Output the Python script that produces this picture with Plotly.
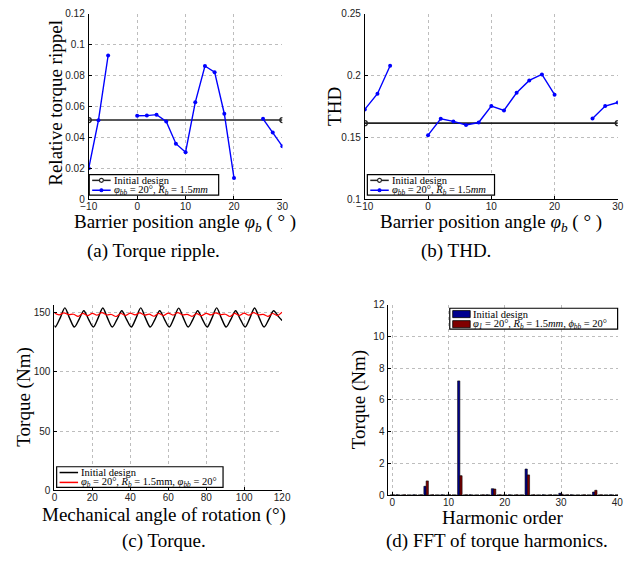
import plotly.graph_objects as go

W, H = 631, 561

# ---------------- data ----------------
# (a) torque ripple & (b) THD vs barrier position angle
phi_b = [-10, -8, -6, -4, -2, 0, 2, 4, 6, 8, 10, 12, 14, 16, 18, 20, 22, 24, 26, 28, 30]
ripple_opt = [0.020, 0.051, 0.093, None, None, 0.054, 0.0541, 0.0547, 0.0503, 0.0359, 0.0304,
              0.0627, 0.0862, 0.0822, 0.0553, 0.0137, None, None, 0.052, 0.0431, 0.0342]
ripple_init_x = [-10, 30]
ripple_init = [0.0512, 0.0512]

thd_opt = [0.1726, 0.1853, 0.208, None, None, 0.1518, 0.165, 0.1629, 0.160, 0.162, 0.1753,
           0.1718, 0.1861, 0.1961, 0.2009, 0.1845, None, None, 0.1652, 0.1753, 0.1782]
thd_init_x = [-10, 30]
thd_init = [0.1615, 0.1615]

# (c) torque vs mechanical angle
black_x = [0, 0.5, 3, 5.5, 8, 10.5, 13, 15.5, 18, 20.5, 23, 25.5, 28, 30.5, 33, 35.5, 38,
           40.5, 43, 45.5, 48, 50.5, 53, 55.5, 58, 60.5, 63, 65.5, 68, 70.5, 73, 75.5, 78,
           80.5, 83, 85.5, 88, 90.5, 93, 95.5, 98, 100.5, 103, 105.5, 108, 110.5, 113, 115.5,
           118, 120]
black_y = [139.4, 138.0, 145.5, 154.2, 145.5, 138.0, 144.5, 151.8, 144.5, 138.0, 145.5, 154.1,
           145.5, 138.0, 144.5, 151.7, 144.5, 138.0, 145.5, 154.2, 145.5, 138.0, 144.5, 151.8,
           144.5, 138.0, 145.5, 154.0, 145.5, 138.0, 144.5, 151.8, 144.5, 138.0, 145.5, 154.2,
           145.5, 138.0, 144.5, 151.7, 144.5, 138.0, 145.5, 154.1, 145.5, 138.0, 144.5, 151.8,
           147.0, 143.5]
red_x = [0, 2.5, 5, 7.5, 10, 12.5, 15, 17.5, 20, 22.5, 25, 27.5, 30, 32.5, 35, 37.5, 40, 42.5,
         45, 47.5, 50, 52.5, 55, 57.5, 60, 62.5, 65, 67.5, 70, 72.5, 75, 77.5, 80, 82.5, 85,
         87.5, 90, 92.5, 95, 97.5, 100, 102.5, 105, 107.5, 110, 112.5, 115, 117.5, 120]
red_y = [149.8, 148.2, 150.0, 148.4, 148.8, 147.0, 149.6, 147.6,
         149.6, 148.0, 150.2, 148.2, 148.6, 146.9, 149.4, 147.8,
         149.7, 148.3, 149.9, 148.1, 148.9, 147.1, 149.5, 147.7,
         149.8, 148.1, 150.1, 148.3, 148.7, 147.0, 149.3, 147.6,
         149.6, 148.2, 150.0, 148.4, 148.8, 146.9, 149.5, 147.8,
         149.7, 148.0, 150.1, 148.2, 148.7, 147.0, 149.4, 147.7, 150.6]

# (d) FFT of torque harmonics
orders = list(range(0, 41))
fft_init = [0.02, 0.03, 0.02, 0.02, 0.03, 0.02, 0.56, 0.02, 0.02, 0.03, 0.02, 0.02, 7.2,
            0.02, 0.03, 0.02, 0.02, 0.03, 0.41, 0.02, 0.02, 0.03, 0.02, 0.02, 1.65, 0.02,
            0.02, 0.03, 0.02, 0.02, 0.12, 0.02, 0.03, 0.02, 0.02, 0.02, 0.20, 0.02, 0.02,
            0.03, 0.02]
fft_opt = [0.03, 0.02, 0.03, 0.02, 0.02, 0.03, 0.90, 0.03, 0.02, 0.02, 0.03, 0.02, 1.23,
           0.03, 0.02, 0.02, 0.03, 0.02, 0.39, 0.03, 0.02, 0.02, 0.03, 0.02, 1.28, 0.03,
           0.02, 0.02, 0.03, 0.02, 0.06, 0.03, 0.02, 0.02, 0.03, 0.02, 0.31, 0.03, 0.02,
           0.02, 0.03]

# legend labels
lbl_init = "Initial design"
lbl_ab = "<i>φ<sub>bb</sub></i> = 20°, <i>R<sub>b</sub></i> = 1.5<i>mm</i>"
lbl_c = "<i>φ<sub>b</sub></i> = 20°, <i>R<sub>b</sub></i> = 1.5mm, <i>φ<sub>bb</sub></i> = 20°"
lbl_d = "<i>φ<sub>1</sub></i> = 20°, <i>R<sub>b</sub></i> = 1.5<i>mm</i>, <i>ϕ<sub>bb</sub></i> = 20°"

# ---------------- styling ----------------
SERIF = "Liberation Serif, Times New Roman, serif"
SANS = "Liberation Sans, Arial, sans-serif"
BLUE = "#0000ff"
INIT = "#222222"
RED = "#ff0000"
NAVY = "#00008f"
MAROON = "#800000"


def px_x(v):
    return v / W


def px_y(v):
    return 1 - v / H


fig = go.Figure()

# (a)
fig.add_trace(go.Scatter(x=ripple_init_x, y=ripple_init, mode="lines+markers",
                         line=dict(color=INIT, width=1.6),
                         marker=dict(symbol="circle-open", size=5, color=INIT, line=dict(width=1.3)),
                         name=lbl_init, xaxis="x", yaxis="y"))
fig.add_trace(go.Scatter(x=phi_b, y=ripple_opt, mode="lines+markers",
                         line=dict(color=BLUE, width=1.4),
                         marker=dict(symbol="circle", size=4, color=BLUE),
                         name=lbl_ab, xaxis="x", yaxis="y"))
# (b)
fig.add_trace(go.Scatter(x=thd_init_x, y=thd_init, mode="lines+markers",
                         line=dict(color=INIT, width=1.6),
                         marker=dict(symbol="circle-open", size=5, color=INIT, line=dict(width=1.3)),
                         name=lbl_init, xaxis="x2", yaxis="y2"))
fig.add_trace(go.Scatter(x=phi_b, y=thd_opt, mode="lines+markers",
                         line=dict(color=BLUE, width=1.4),
                         marker=dict(symbol="circle", size=4, color=BLUE),
                         name=lbl_ab, xaxis="x2", yaxis="y2"))
# (c)
fig.add_trace(go.Scatter(x=black_x, y=black_y, mode="lines",
                         line=dict(color="#000000", width=1.4, shape="spline", smoothing=0.9),
                         name=lbl_init, xaxis="x3", yaxis="y3"))
fig.add_trace(go.Scatter(x=red_x, y=red_y, mode="lines",
                         line=dict(color=RED, width=1.2, shape="spline", smoothing=0.9),
                         name=lbl_c, xaxis="x3", yaxis="y3"))
# (d)
fig.add_trace(go.Bar(x=orders, y=fft_init, marker=dict(color=NAVY, line=dict(color="#000000", width=0.6)),
                     name=lbl_init, xaxis="x4", yaxis="y4"))
fig.add_trace(go.Bar(x=orders, y=fft_opt, marker=dict(color=MAROON, line=dict(color="#000000", width=0.6)),
                     name=lbl_d, xaxis="x4", yaxis="y4"))

base = dict(showgrid=True, gridcolor="#bdbdbd", griddash="dot", gridwidth=1,
            showline=True, linecolor="#000000", linewidth=1, ticks="inside", ticklen=3,
            tickcolor="#000000", tickfont=dict(family=SANS, size=10, color="#222222"),
            zeroline=False, mirror=False)
gx = dict(base, ticklabelstandoff=-2)
gy = dict(base, ticklabelstandoff=1)

dom = {
    "a": ([px_x(83), px_x(282)], [px_y(198), px_y(9)]),
    "b": ([px_x(366.7), px_x(626.7)], [px_y(198), px_y(9)]),
    "c": ([px_x(47.7), px_x(281.7)], [px_y(495), px_y(306)]),
    "d": ([px_x(391), px_x(626.7)], [px_y(500), px_y(305.7)]),
}

xt_ab = [-10, 0, 10, 20, 30]
fig.update_layout(
    xaxis=dict(domain=dom["a"][0], anchor="y", range=[-10, 30], tickvals=xt_ab, **gx),
    yaxis=dict(domain=dom["a"][1], anchor="x", range=[0, 0.12],
               tickvals=[0, 0.02, 0.04, 0.06, 0.08, 0.1, 0.12],
               ticktext=["0", "0.02", "0.04", "0.06", "0.08", "0.1", "0.12"], **gy),
    xaxis2=dict(domain=dom["b"][0], anchor="y2", range=[-10, 30], tickvals=xt_ab, **gx),
    yaxis2=dict(domain=dom["b"][1], anchor="x2", range=[0.1, 0.25],
                tickvals=[0.1, 0.15, 0.2, 0.25], ticktext=["0.1", "0.15", "0.2", "0.25"], **gy),
    xaxis3=dict(domain=dom["c"][0], anchor="y3", range=[0, 120],
                tickvals=[0, 20, 40, 60, 80, 100, 120], **gx),
    yaxis3=dict(domain=dom["c"][1], anchor="x3", range=[0, 156.6],
                tickvals=[0, 50, 100, 150], **gy),
    xaxis4=dict(domain=dom["d"][0], anchor="y4", range=[-0.7, 40.1],
                tickvals=[0, 10, 20, 30, 40], **gx),
    yaxis4=dict(domain=dom["d"][1], anchor="x4", range=[0, 12],
                tickvals=[0, 2, 4, 6, 8, 10, 12], **gy),
    barmode="group", bargap=0.2, bargroupgap=0,
    width=W, height=H, margin=dict(l=0, r=0, t=0, b=0),
    paper_bgcolor="white", plot_bgcolor="white", showlegend=False,
)

ann = []
shapes = []


def add_text(text, x, y, size, angle=0, xanchor="center"):
    ann.append(dict(text=text, x=px_x(x), y=px_y(y), xref="paper", yref="paper",
                    showarrow=False, textangle=angle, xanchor=xanchor, yanchor="middle",
                    font=dict(family=SERIF, size=size, color="#000000")))


def rect(x0, y0, x1, y1, fill="white", line="#000000", lw=1.2):
    shapes.append(dict(type="rect", xref="paper", yref="paper",
                       x0=px_x(x0), x1=px_x(x1), y0=px_y(y1), y1=px_y(y0),
                       fillcolor=fill, line=dict(color=line, width=lw), layer="above"))


def seg(x0, x1, y, color, lw):
    shapes.append(dict(type="line", xref="paper", yref="paper",
                       x0=px_x(x0), x1=px_x(x1), y0=px_y(y), y1=px_y(y),
                       line=dict(color=color, width=lw), layer="above"))


def dot(x, y, r, color, filled):
    shapes.append(dict(type="circle", xref="paper", yref="paper",
                       x0=px_x(x - r), x1=px_x(x + r), y0=px_y(y + r), y1=px_y(y - r),
                       fillcolor=color if filled else "white",
                       line=dict(color=color, width=1.1), layer="above"))


def line_legend(x0, y0, x1, y1, entries):
    rect(x0, y0, x1, y1)
    rows = [y0 + (y1 - y0) * 0.28, y0 + (y1 - y0) * 0.76]
    for (label, color, marker), yy in zip(entries, rows):
        seg(x0 + 3, x0 + 22, yy, color, 1.5)
        if marker == "open":
            dot(x0 + 12.5, yy, 2.0, color, False)
        elif marker == "filled":
            dot(x0 + 12.5, yy, 1.5, color, True)
        add_text(label, x0 + 23, yy, 10.5, xanchor="left")


def bar_legend(x0, y0, x1, y1, entries):
    rect(x0, y0, x1, y1)
    rows = [y0 + (y1 - y0) * 0.28, y0 + (y1 - y0) * 0.76]
    for (label, color), yy in zip(entries, rows):
        rect(x0 + 3, yy - 3.6, x0 + 21, yy + 3.6, fill=color, line="#000000", lw=0.8)
        add_text(label, x0 + 21.5, yy, 10.5, xanchor="left")


line_legend(83.5, 173, 216.5, 194, [(lbl_init, INIT, "open"), (lbl_ab, BLUE, "filled")])
line_legend(369.3, 173, 500, 194, [(lbl_init, INIT, "open"), (lbl_ab, BLUE, "filled")])
line_legend(50, 471, 221, 492, [(lbl_init, "#000000", None), (lbl_c, RED, None)])
bar_legend(454, 309.3, 626.5, 330.7, [(lbl_init, NAVY), (lbl_d, MAROON)])

# axis titles and captions
add_text("Relative torque rippel", 48, 100, 19, -90)
add_text("Barrier position angle <i>φ<sub>b</sub></i> ( ° )", 182, 222, 19)
add_text("THD", 336, 103, 19, -90)
add_text("Barrier position angle <i>φ<sub>b</sub></i> ( ° )", 496, 222, 19)
add_text("Torque (Nm)", 17, 400, 19, -90)
add_text("Mechanical angle of rotation (°)", 160, 520, 19)
add_text("Torque (Nm)", 361, 403, 19, -90)
add_text("Harmonic order", 508, 523, 19)
add_text("(a) Torque ripple.", 150, 251, 19)
add_text("(b) THD.", 460, 251, 19)
add_text("(c) Torque.", 160, 547, 19)
add_text("(d) FFT of torque harmonics.", 503, 547, 19)

fig.update_layout(annotations=ann, shapes=shapes)

fig.write_html("out.html", config={"displayModeBar": False},
               post_script="document.body.style.margin='0';document.body.style.padding='0';"
                           "document.body.style.overflow='hidden';")
